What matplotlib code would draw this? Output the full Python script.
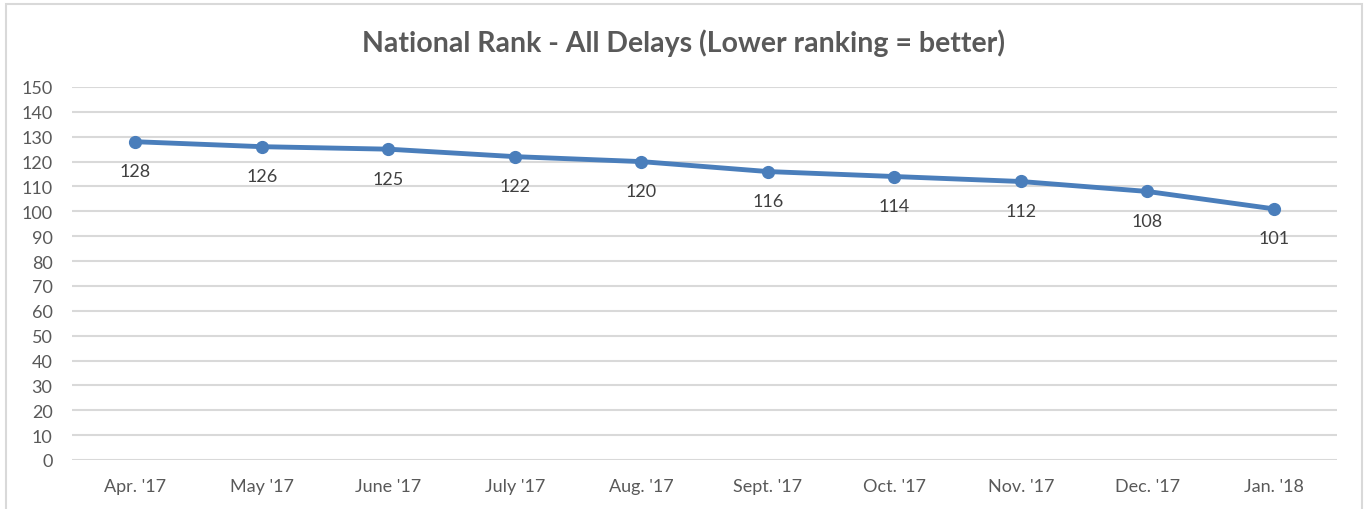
import matplotlib.pyplot as plt
from matplotlib.patches import Rectangle

months = ["Apr. '17", "May '17", "June '17", "July '17", "Aug. '17",
          "Sept. '17", "Oct. '17", "Nov. '17", "Dec. '17", "Jan. '18"]
rank = [128, 126, 125, 122, 120, 116, 114, 112, 108, 101]
yticks = list(range(0, 151, 10))

plt.rcParams['font.family'] = ['Lato', 'DejaVu Sans']

fig = plt.figure(figsize=(13.67, 5.10), dpi=100)
fig.patches.append(Rectangle((6 / 1367, -0.1), (1362 - 6) / 1367, 1.1 - 5 / 510,
                             transform=fig.transFigure, fill=False,
                             edgecolor="#d9d9d9", linewidth=1.5))
ax = fig.add_axes([72 / 1367, 1 - 461 / 510, (1337 - 72) / 1367, (461 - 88) / 510])

x = list(range(len(months)))
ax.plot(x, rank, color="#4a7ebb", linewidth=3.5, marker="o", markersize=8.5,
        solid_capstyle="round", zorder=3)
for xi, v in zip(x, rank):
    ax.annotate(str(v), (xi, v), xytext=(0, -15.5), textcoords="offset points",
                ha="center", va="top", fontsize=13, color="#404040")

ax.set_xlim(-0.5, len(months) - 0.5)
ax.set_ylim(0, 150)
ax.set_yticks(yticks)
ax.set_xticks(x)
ax.set_xticklabels(months)
ax.tick_params(axis="both", length=0, labelsize=13, labelcolor="#595959")
ax.tick_params(axis="x", pad=13)
ax.tick_params(axis="y", pad=14)
ax.grid(axis="y", color="#d9d9d9", linewidth=1.5)
ax.set_axisbelow(True)
for s in ax.spines.values():
    s.set_visible(False)

fig.text(684 / 1367, 1 - 43 / 510, "National Rank - All Delays (Lower ranking = better)",
         ha="center", va="center", fontsize=20.5, fontweight="bold", color="#595959")

fig.savefig("out.png", dpi=100)
